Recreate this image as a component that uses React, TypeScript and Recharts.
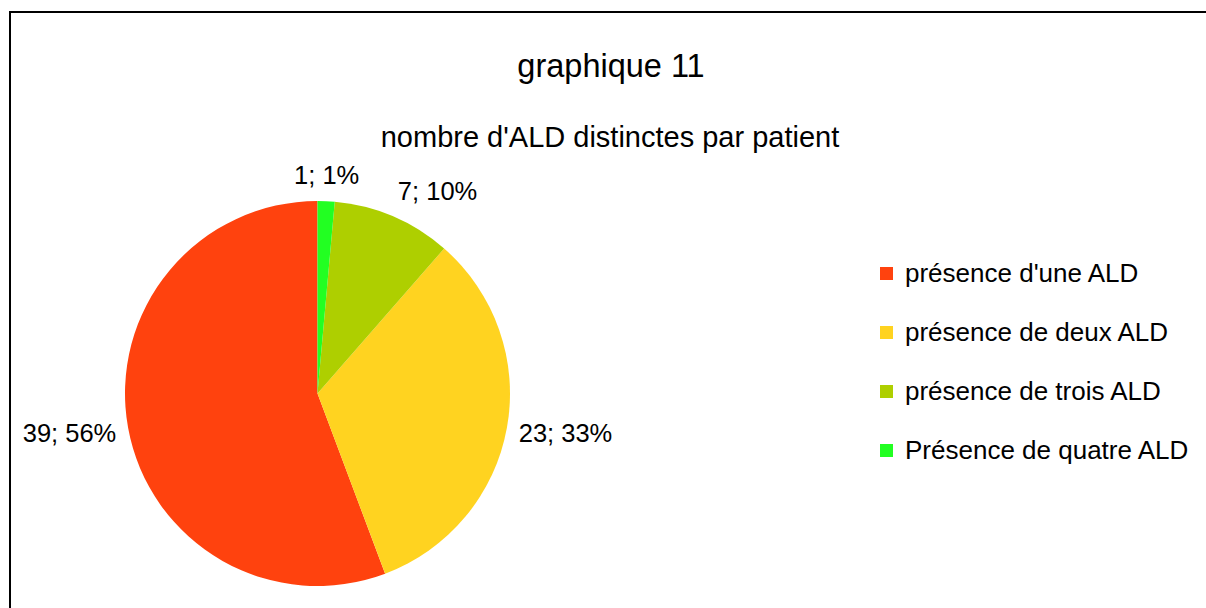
import React from "react";
import { PieChart, Pie, Cell, Legend } from "recharts";

const categories = [
  "présence d'une ALD",
  "présence de deux ALD",
  "présence de trois ALD",
  "Présence de quatre ALD",
];
const patients = [39, 23, 7, 1];
const colors = ["#ff420e", "#ffd320", "#aecf00", "#22ff22"];

const data = categories.map((name, i) => ({ name, value: patients[i] }));

const FONT = '"Liberation Sans", Arial, sans-serif';
const RAD = Math.PI / 180;

function renderLabel(props: any) {
  const { cx, cy, midAngle, outerRadius, value, percent } = props;
  const r = outerRadius + 12;
  const cos = Math.cos(-midAngle * RAD);
  const sin = Math.sin(-midAngle * RAD);
  const x = cx + r * cos;
  const y = cy + r * sin;
  const anchor = cos > 0.2 ? "start" : cos < -0.2 ? "end" : "middle";
  let dy = "0.47em";
  if (sin < -0.7) dy = "-0.2em";
  else if (sin > 0.7) dy = "0.9em";
  return (
    <text x={x} y={y} dy={dy} textAnchor={anchor} fill="#000" fontSize={25.5} fontFamily={FONT}>
      {`${value}; ${Math.round(percent * 100)}%`}
    </text>
  );
}

function LegendBox({ payload }: any) {
  const items = [...(payload || [])].sort(
    (a: any, b: any) => categories.indexOf(a.value) - categories.indexOf(b.value)
  );
  return (
    <div style={{ fontFamily: FONT, fontSize: 26 }}>
      {items.map((p: any, i: number) => (
        <div key={i} style={{ display: "flex", alignItems: "center", height: 59 }}>
          <span style={{ width: 13, height: 13, background: p.color, marginRight: 12, display: "inline-block" }} />
          <span style={{ color: "#000" }}>{p.value}</span>
        </div>
      ))}
    </div>
  );
}

export default function App() {
  return (
    <div style={{ position: "fixed", left: 0, top: 0, width: 1206, height: 608, background: "#fff", overflow: "hidden" }}>
      <div style={{ position: "absolute", left: 9, top: 11, width: 1230, height: 640, border: "2px solid #000", boxSizing: "border-box" }} />
      <svg width={1206} height={608} style={{ position: "absolute", left: 0, top: 0 }}>
        <text x={611} y={77} textAnchor="middle" fontSize={32.5} fontFamily={FONT} fill="#000">graphique 11</text>
        <text x={610} y={147} textAnchor="middle" fontSize={29} fontFamily={FONT} fill="#000">nombre d'ALD distinctes par patient</text>
      </svg>
      <div style={{ position: "absolute", left: 0, top: 0 }}>
        <PieChart width={1206} height={608} margin={{ top: 0, right: 0, bottom: 0, left: 0 }}>
          <Pie
            data={data}
            dataKey="value"
            nameKey="name"
            cx={317.5}
            cy={393.5}
            outerRadius={192.5}
            startAngle={90}
            endAngle={450}
            stroke="none"
            label={renderLabel}
            labelLine={false}
            isAnimationActive={false}
          >
            {data.map((_, i) => (
              <Cell key={i} fill={colors[i]} />
            ))}
          </Pie>
          <Legend
            content={LegendBox}
            itemSorter={null as any}
            wrapperStyle={{ position: "absolute", left: 880, top: 244, width: 326, bottom: "auto", right: "auto" }}
          />
        </PieChart>
      </div>
    </div>
  );
}
